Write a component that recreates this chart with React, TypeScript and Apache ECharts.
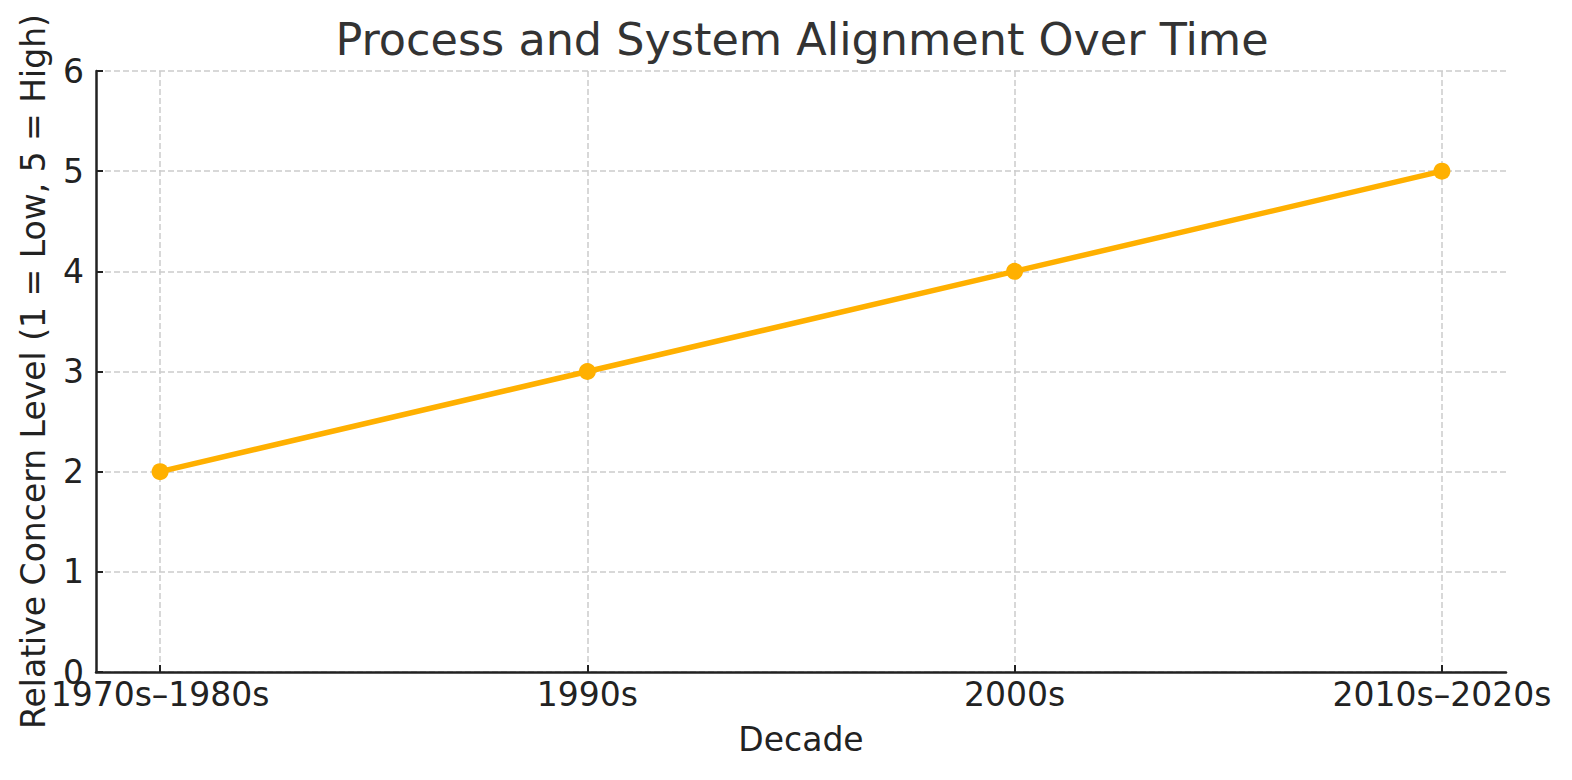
import React, { useEffect, useRef } from "react";
import * as echarts from "echarts";

const decades = ["1970s–1980s", "1990s", "2000s", "2010s–2020s"];
const concernLevels = [2, 3, 4, 5];
const yTicks = [0, 1, 2, 3, 4, 5, 6];

const TEXT = "#222222";
const FONT = "DejaVu Sans";

export default function App() {
  const ref = useRef<HTMLDivElement>(null);
  useEffect(() => {
    document.body.style.margin = "0";
    if (!ref.current) return;
    const chart = echarts.init(ref.current, undefined, { renderer: "svg" });
    const xIdx = decades.map((_, i) => i);
    chart.setOption({
      animation: false,
      backgroundColor: "#ffffff",
      textStyle: { fontFamily: FONT },
      title: {
        text: "Process and System Alignment Over Time",
        left: 797,
        top: 12,
        textAlign: "center",
        textStyle: { fontFamily: FONT, fontSize: 44.5, fontWeight: "normal", color: "#333333" },
      },
      grid: { left: 96, right: 66, top: 71, bottom: 108, containLabel: false },
      xAxis: {
        type: "value",
        min: -0.15,
        max: decades.length - 1 + 0.15,
        name: "Decade",
        nameLocation: "middle",
        nameGap: 51,
        nameTextStyle: { fontFamily: FONT, fontSize: 33, color: TEXT },
        axisLine: { show: true, onZero: false, lineStyle: { color: TEXT, width: 2.5 } },
        axisTick: { show: true, inside: true, length: 7, lineStyle: { color: TEXT, width: 2 }, customValues: xIdx },
        axisLabel: {
          customValues: xIdx,
          fontFamily: FONT,
          fontSize: 33,
          color: TEXT,
          margin: 6,
          formatter: (v: number) => decades[Math.round(v)] ?? "",
        },
        splitLine: { show: true, lineStyle: { color: "#cccccc", width: 1.5, type: [6, 3] } },
      },
      yAxis: {
        type: "value",
        min: yTicks[0],
        max: yTicks[yTicks.length - 1],
        interval: 1,
        name: "Relative Concern Level (1 = Low, 5 = High)",
        nameLocation: "middle",
        nameGap: 46,
        nameTextStyle: { fontFamily: FONT, fontSize: 33, color: TEXT },
        axisLine: { show: true, onZero: false, lineStyle: { color: TEXT, width: 2.5 } },
        axisTick: { show: true, inside: true, length: 7, lineStyle: { color: TEXT, width: 2 } },
        axisLabel: { fontFamily: FONT, fontSize: 33, color: TEXT, margin: 12 },
        splitLine: { show: true, lineStyle: { color: "#cccccc", width: 1.5, type: [6, 3] } },
      },
      series: [
        {
          type: "line",
          data: concernLevels.map((v, i) => [i, v]),
          symbol: "circle",
          symbolSize: 17,
          showSymbol: true,
          lineStyle: { color: "#FFB000", width: 5.5 },
          itemStyle: { color: "#FFB000" },
          z: 5,
        },
      ],
    });
    return () => chart.dispose();
  }, []);
  return <div ref={ref} style={{ width: 1572, height: 780 }} />;
}
